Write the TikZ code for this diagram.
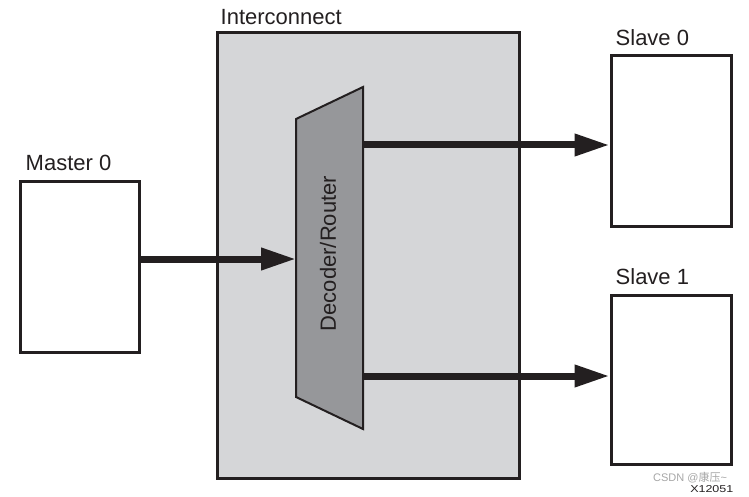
\documentclass[tikz,border=0pt]{standalone}
\usepackage{fontspec}
\setmainfont{Liberation Sans}
\newfontfamily\cjkfont{Noto Sans CJK SC}
\usepackage{tikz}
\usepackage{xcolor}
\usetikzlibrary{positioning,arrows.meta}
\definecolor{icgray}{HTML}{D5D6D8}
\definecolor{decgray}{HTML}{96979A}
\definecolor{ink}{HTML}{231F20}

\begin{document}
\begin{tikzpicture}[
    x=1pt, y=-1pt,
    block/.style={%
      draw=ink,
      line width=3pt,
      rectangle,
      inner sep=0pt,
    },
    lbl/.style={%
      font=\fontsize{22}{24}\selectfont,
      text=ink,
      inner sep=0pt,
      anchor=base west,
    },
    bus/.style={%
      draw=ink,
      line width=7pt,
      -{Triangle[length=35pt,width=21pt]},
    },
  ]
    \useasboundingbox (0,0) rectangle (749,497);

    \node [block, fill=icgray, minimum width=302pt, minimum height=445pt] (IC) at (368,255.5) {};
    \node [block, fill=white, minimum width=119pt, minimum height=170pt] (M) at (79.5,267) {};
    \node [block, fill=white, minimum width=120pt, minimum height=170pt] (S0) at (671,141) {};
    \node [block, fill=white, minimum width=120pt, minimum height=169pt] (S1) at (671,379.5) {};

    \node [lbl] at ([xshift=5pt,yshift=7pt]IC.north west) {Interconnect};
    \node [lbl] at ([xshift=7pt,yshift=10pt]M.north west) {Master 0};
    \node [lbl] at ([xshift=6pt,yshift=9pt]S0.north west) {Slave 0};
    \node [lbl] at ([xshift=6pt,yshift=9pt]S1.north west) {Slave 1};

    % decoder/router
    \coordinate (DA) at (296,119);
    \coordinate (DB) at (363,87);
    \coordinate (DC) at (363,429);
    \coordinate (DD) at (296,397);
    \draw [draw=ink, fill=decgray, line width=2pt, line join=miter] (DA) -- (DB) -- (DC) -- (DD) -- cycle;
    \node [lbl, anchor=center, rotate=90] (D) at (328,253.5) {Decoder/Router};

    \coordinate (Din) at (296,259);
    \coordinate (Dout0) at (363,145);
    \coordinate (Dout1) at (363,376);
    \draw [bus] (M.east |- Din) -- (Din);
    \draw [bus] (Dout0) -- (Dout0 -| S0.west);
    \draw [bus] (Dout1) -- (Dout1 -| S1.west);

    \node [anchor=base west, inner sep=0pt, text=black!35, font=\fontsize{11}{12}\selectfont] (W) at (653,481) {CSDN @{\cjkfont 康压}\textasciitilde};
    \node [anchor=base west, inner sep=0pt, text=ink, xscale=1.25, font=\fontsize{10}{11}\selectfont] (X) at (690,492) {X12051};
\end{tikzpicture}
\end{document}
